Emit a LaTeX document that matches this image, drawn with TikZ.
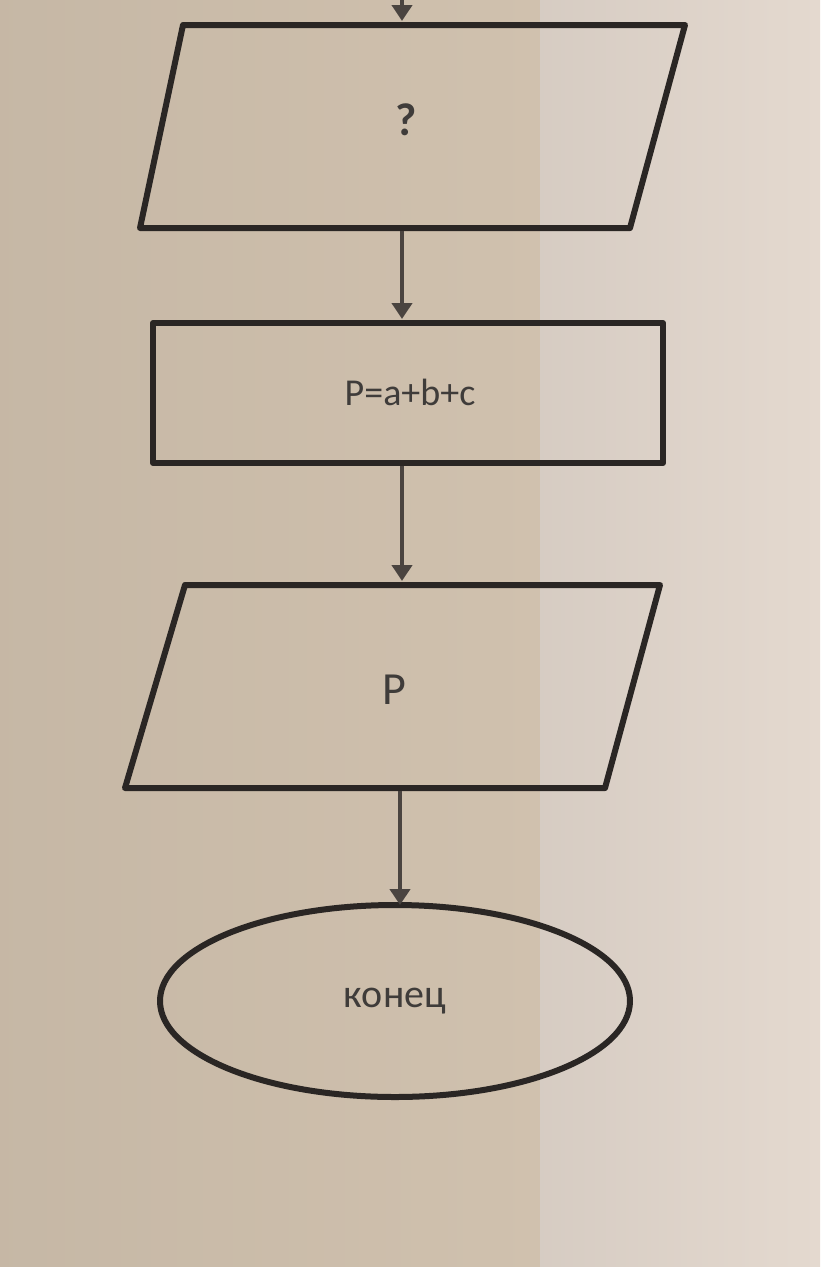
\documentclass[tikz,border=0pt]{standalone}
\usepackage{fontspec}
\setmainfont{Carlito}
\usetikzlibrary{arrows.meta,shapes.geometric}
\definecolor{bgleft}{HTML}{D0C1AE}
\definecolor{bgright}{HTML}{E4D9CF}
\definecolor{ink}{HTML}{2A2624}
\definecolor{arrowink}{HTML}{4A4440}
\tikzset{
  x=1pt, y=-1pt,
  shapeline/.style={draw=ink, line width=6pt, line join=round},
  flow/.style={draw=arrowink, line width=4pt, -{Triangle[length=16pt,width=20pt]}, shorten >=1pt},
  lbl/.style={text=ink!90, font=\bfseries\fontsize{40}{48}\selectfont},
}
\begin{document}
\begin{tikzpicture}
\useasboundingbox (0,0) rectangle (820,1267);
\fill[left color=bgleft!95!black, right color=bgleft] (0,0) rectangle (540,1267);
\fill[left color=bgright!94!black, right color=bgright] (540,0) rectangle (820,1267);
% shapes
\draw[shapeline] (183,25) -- (685,25) -- (630,228) -- (140,228) -- cycle;
\node[lbl, font=\bfseries\fontsize{46}{54}\selectfont] (q) at (406,120) {?};
\draw[shapeline] (153,323) rectangle (663,463);
\node[lbl, font=\fontsize{38}{46}\selectfont] (p) at (410,392) {P=a+b+c};
\draw[shapeline] (185,585) -- (660,585) -- (605,788) -- (125,788) -- cycle;
\node[lbl, font=\fontsize{46}{54}\selectfont] (out) at (394,690) {P};
\node[shapeline, ellipse, minimum width=470pt, minimum height=192pt, lbl, font=\fontsize{40}{48}\selectfont] (end) at (395,1001) {конец};
% connection coordinates
\coordinate (t0) at (402,0);
\coordinate (t1) at (402,22);
\coordinate (a0) at (402,231);
\coordinate (a1) at (402,320);
\coordinate (b0) at (402,466);
\coordinate (b1) at (402,582);
\coordinate (c0) at (400,791);
\coordinate (c1) at (400,906);
\draw[flow] (t0) -- (t1);
\draw[flow] (a0) -- (a1);
\draw[flow] (b0) -- (b1);
\draw[flow] (c0) -- (c1);
\end{tikzpicture}
\end{document}
